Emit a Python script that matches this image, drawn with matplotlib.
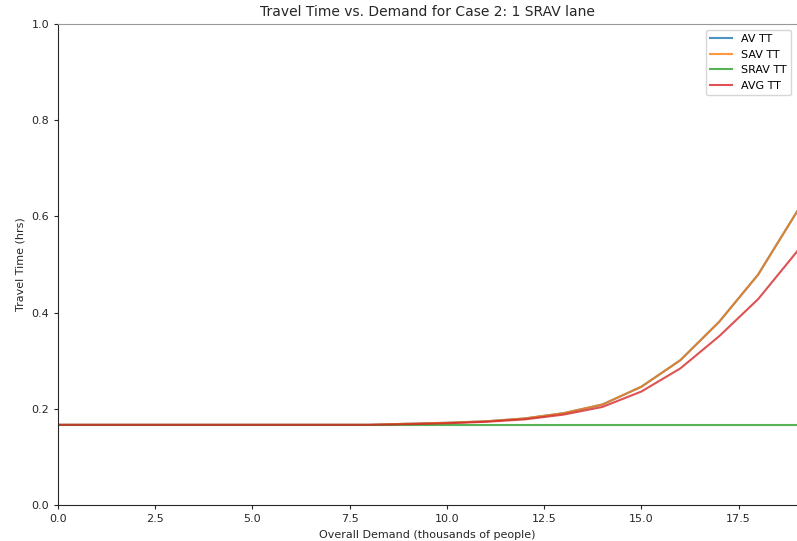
import numpy as np
import matplotlib
matplotlib.use("Agg")
import matplotlib.pyplot as plt

# Demand (thousands of people)
demand = list(range(0, 20))

# Travel times (hrs)
base = 0.1667
sav_tt = [base] * 9 + [0.169, 0.171, 0.174, 0.180, 0.191, 0.209, 0.246, 0.301, 0.381, 0.479, 0.610]
av_tt = sav_tt
srav_tt = [base] * 20
avg_tt = [base] * 9 + [0.168, 0.170, 0.173, 0.178, 0.188, 0.204, 0.236, 0.284, 0.351, 0.428, 0.527]

fig = plt.figure(figsize=(7.97, 5.41), dpi=100)
ax = fig.add_axes([0.0728, 0.0665, 0.9272, 0.8891])

ax.plot(demand, av_tt, label='AV TT', color='#1f77b4', alpha=0.8, lw=1.5)
ax.plot(demand, sav_tt, label='SAV TT', color='#ff7f0e', alpha=0.8, lw=1.5)
ax.plot(demand, srav_tt, label='SRAV TT', color='#2ca02c', alpha=0.8, lw=1.5)
ax.plot(demand, avg_tt, label='AVG TT', color='#d62728', alpha=0.8, lw=1.5)

ax.set_xlim(0, 19)
ax.set_ylim(0, 1.0)
ax.set_xticks([0, 2.5, 5, 7.5, 10, 12.5, 15, 17.5])
ax.set_title('Travel Time vs. Demand for Case 2: 1 SRAV lane', fontsize=10, color='#262626')
ax.set_xlabel('Overall Demand (thousands of people)', fontsize=8, color='#262626')
ax.set_ylabel('Travel Time (hrs)', fontsize=8, color='#262626')
ax.tick_params(labelsize=8, colors='#262626', length=3)
ax.spines['right'].set_visible(False)
ax.spines['top'].set_color('#999999')
for s in ['left', 'bottom']:
    ax.spines[s].set_color('#262626')
ax.legend(loc='upper right', fontsize=8)

fig.savefig('out.png', dpi=100)
